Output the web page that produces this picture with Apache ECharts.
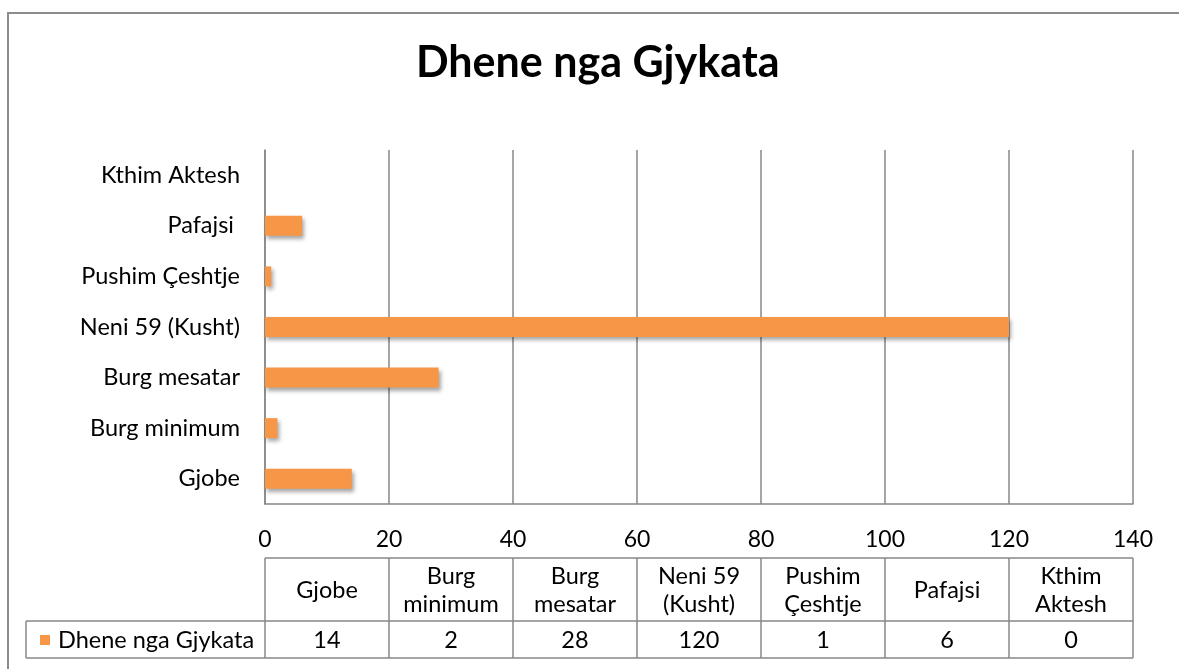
<!DOCTYPE html>
<html>
<head>
<meta charset="utf-8">
<script src="https://cdn.jsdelivr.net/npm/echarts@6/dist/echarts.min.js"></script>
<style>
  html, body { margin: 0; padding: 0; background: #fff; }
  #main { width: 1179px; height: 669px; }
</style>
</head>
<body>
<div id="main"></div>
<script>
// data
const categories = ['Gjobe', 'Burg minimum', 'Burg mesatar', 'Neni 59 (Kusht)', 'Pushim Çeshtje', 'Pafajsi ', 'Kthim Aktesh'];
const values = [14, 2, 28, 120, 1, 6, 0];
const tableHeaders = ['Gjobe', 'Burg\nminimum', 'Burg\nmesatar', 'Neni 59\n(Kusht)', 'Pushim\nÇeshtje', 'Pafajsi', 'Kthim\nAktesh'];
const seriesName = 'Dhene nga Gjykata';
const titleText = 'Dhene nga Gjykata';
const axisMin = 0, axisMax = 140, axisStep = 20;

const FONT = 'Lato, "Open Sans", sans-serif';
const ORANGE = '#F79646';
const LINE = '#878787';

const chart = echarts.init(document.getElementById('main'));

const option = {
  backgroundColor: '#fff',
  animation: false,
  title: {
    text: titleText,
    left: 411,
    top: 37,
    textStyle: { fontFamily: FONT, fontSize: 43, fontWeight: 'bold', color: '#000' }
  },
  grid: { left: 265, right: 46, top: 150, bottom: 165 },
  xAxis: {
    type: 'value',
    min: axisMin,
    max: axisMax,
    interval: axisStep,
    axisLine: { show: true, lineStyle: { color: LINE, width: 1.5 } },
    axisTick: { show: false },
    axisLabel: { fontFamily: FONT, fontSize: 23, color: '#000', margin: 24 },
    splitLine: { show: true, lineStyle: { color: LINE, width: 1.5 } }
  },
  yAxis: {
    type: 'category',
    data: categories,
    axisLine: { show: true, lineStyle: { color: LINE, width: 1.5 } },
    axisTick: { show: false },
    axisLabel: { fontFamily: FONT, fontSize: 23.5, color: '#000', margin: 25 },
    splitLine: { show: false }
  },
  series: [{
    name: seriesName,
    type: 'bar',
    data: values,
    barWidth: 20,
    itemStyle: {
      color: ORANGE,
      shadowColor: 'rgba(0,0,0,0.35)',
      shadowBlur: 4,
      shadowOffsetX: 2,
      shadowOffsetY: 3
    }
  }]
};
chart.setOption(option);

// data table under the axis, columns follow the grid width
function buildTable() {
  const x0 = chart.convertToPixel({ xAxisIndex: 0 }, axisMin);
  const x1 = chart.convertToPixel({ xAxisIndex: 0 }, axisMax);
  const colW = (x1 - x0) / categories.length;
  const headTop = 558, headBot = 621, rowBot = 658;
  const legendLeft = 26;
  const els = [];
  const lineStyle = { stroke: LINE, lineWidth: 1.5 };

  // outer chart border
  els.push({ type: 'rect', shape: { x: 8, y: 13, width: 1300, height: 800 },
    style: { fill: 'none', stroke: '#8c8c8c', lineWidth: 2 }, silent: true });

  // horizontal lines
  els.push({ type: 'line', shape: { x1: x0, y1: headTop, x2: x1, y2: headTop }, style: lineStyle });
  els.push({ type: 'line', shape: { x1: legendLeft, y1: headBot, x2: x1, y2: headBot }, style: lineStyle });
  els.push({ type: 'line', shape: { x1: legendLeft, y1: rowBot, x2: x1, y2: rowBot }, style: lineStyle });
  els.push({ type: 'line', shape: { x1: legendLeft, y1: headBot, x2: legendLeft, y2: rowBot }, style: lineStyle });

  for (let i = 0; i <= categories.length; i++) {
    const x = x0 + i * colW;
    els.push({ type: 'line', shape: { x1: x, y1: headTop, x2: x, y2: rowBot }, style: lineStyle });
  }
  for (let i = 0; i < categories.length; i++) {
    const cx = x0 + (i + 0.5) * colW;
    els.push({ type: 'text', x: cx, y: (headTop + headBot) / 2 + 1,
      style: { text: tableHeaders[i], fontFamily: FONT, fontSize: 23.5, fill: '#000',
        align: 'center', verticalAlign: 'middle', lineHeight: 28 } });
    els.push({ type: 'text', x: cx, y: (headBot + rowBot) / 2 + 1,
      style: { text: String(values[i]), fontFamily: FONT, fontSize: 23.5, fill: '#000',
        align: 'center', verticalAlign: 'middle' } });
  }
  // legend key in table
  els.push({ type: 'rect', shape: { x: 40, y: 635, width: 10, height: 10 }, style: { fill: ORANGE } });
  els.push({ type: 'text', x: 58, y: (headBot + rowBot) / 2 + 1,
    style: { text: seriesName, fontFamily: FONT, fontSize: 23.5, fill: '#000', align: 'left', verticalAlign: 'middle' } });

  chart.setOption({ graphic: els });
}
buildTable();
</script>
</body>
</html>
